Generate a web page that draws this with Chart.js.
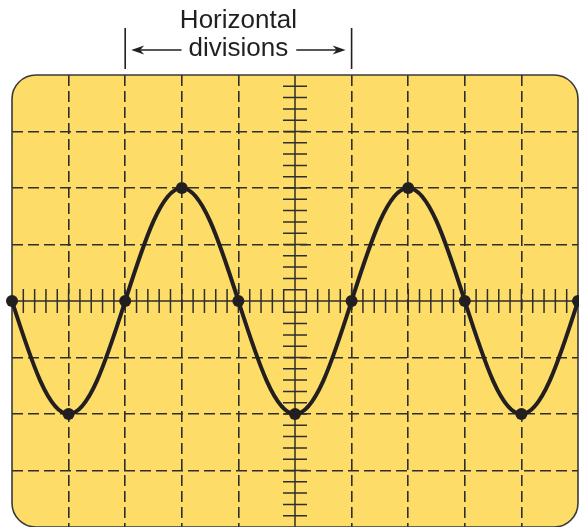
<!DOCTYPE html>
<html>
<head>
<meta charset="utf-8">
<script src="https://cdn.jsdelivr.net/npm/chart.js@4"></script>
<style>
  html, body { margin: 0; padding: 0; background: #fff; }
  #wrap { width: 579px; height: 527px; }
</style>
</head>
<body>
<div id="wrap"><canvas id="scope" width="579" height="527"></canvas></div>
<script>
// one sample per marker: zero crossings, peaks and troughs (in divisions)
const timeDivs = [0, 1, 2, 3, 4, 5, 6, 7, 8, 9, 10];
const voltDivs = [0, -2, 0, 2, 0, -2, 0, 2, 0, -2, 0];

const titleTop = 'Horizontal';
const titleBottom = 'divisions';
// the bracket spans these two grid lines
const spanFrom = 2;
const spanTo = 6;

const INK = '#231f20';
const GRID = '#2e2e2e';
const SCREEN = '#fedc68';

// bezier handle length in divisions: [along time, along volts at a crossing]
const HANDLE = [0.35, 1.1];

// screen background, centre graticule and labels
const scopePlugin = {
    id: 'scope',
    beforeDraw(chart) {
        const { ctx, chartArea: a } = chart;
        ctx.save();
        ctx.beginPath();
        ctx.roundRect(a.left, a.top, a.right - a.left, a.bottom - a.top, 24);
        ctx.fillStyle = SCREEN;
        ctx.fill();
        ctx.restore();
    },
    beforeDatasetsDraw(chart) {
        const { ctx, chartArea: a, scales: { x, y } } = chart;
        const cx = x.getPixelForValue(5);
        const cy = y.getPixelForValue(0);
        ctx.save();
        ctx.strokeStyle = GRID;
        ctx.lineWidth = 1.5;
        ctx.beginPath();
        ctx.moveTo(a.left, cy); ctx.lineTo(a.right, cy);
        ctx.moveTo(cx, a.top); ctx.lineTo(cx, a.bottom);
        for (let i = 1; i < 50; i++) {
            const px = x.getPixelForValue(i / 5);
            ctx.moveTo(px, cy - 12); ctx.lineTo(px, cy + 12);
        }
        for (let i = 1; i < 40; i++) {
            const py = y.getPixelForValue(-4 + i / 5);
            ctx.moveTo(cx - 12, py); ctx.lineTo(cx + 12, py);
        }
        ctx.rect(x.getPixelForValue(4.8), y.getPixelForValue(0.2),
            x.getPixelForValue(5.2) - x.getPixelForValue(4.8),
            y.getPixelForValue(-0.2) - y.getPixelForValue(0.2));
        ctx.stroke();

        // screen bezel
        ctx.beginPath();
        ctx.roundRect(a.left, a.top, a.right - a.left, a.bottom - a.top, 24);
        ctx.lineWidth = 1.6;
        ctx.strokeStyle = '#3a3a3a';
        ctx.stroke();

        // "Horizontal divisions" bracket
        const x0 = x.getPixelForValue(spanFrom);
        const x1 = x.getPixelForValue(spanTo);
        const mid = (x0 + x1) / 2;
        ctx.fillStyle = INK;
        ctx.font = '26px "Liberation Sans", Arial, sans-serif';
        ctx.textAlign = 'center';
        ctx.textBaseline = 'alphabetic';
        ctx.fillText(titleTop, mid, 28);
        ctx.fillText(titleBottom, mid, 56);
        const half = ctx.measureText(titleBottom).width / 2;

        ctx.strokeStyle = INK;
        ctx.lineWidth = 1.6;
        ctx.beginPath();
        ctx.moveTo(x0, 28); ctx.lineTo(x0, 69);
        ctx.moveTo(x1, 28); ctx.lineTo(x1, 69);
        ctx.moveTo(x0 + 14, 50); ctx.lineTo(mid - half - 7, 50);
        ctx.moveTo(mid + half + 8, 50); ctx.lineTo(x1 - 14, 50);
        ctx.stroke();
        ctx.beginPath();
        ctx.moveTo(x0 + 6, 50); ctx.lineTo(x0 + 19, 45.5); ctx.lineTo(x0 + 15, 50); ctx.lineTo(x0 + 19, 54.5);
        ctx.closePath();
        ctx.moveTo(x1 - 6, 50); ctx.lineTo(x1 - 19, 45.5); ctx.lineTo(x1 - 15, 50); ctx.lineTo(x1 - 19, 54.5);
        ctx.closePath();
        ctx.fill();
        ctx.restore();

        // reshape the spline handles so the trace looks like a sine wave
        const meta = chart.getDatasetMeta(0);
        meta.dataset.updateControlPoints(a, 'x');
        const hx = (x.getPixelForValue(1) - x.getPixelForValue(0)) * HANDLE[0];
        const hy = (y.getPixelForValue(0) - y.getPixelForValue(1)) * HANDLE[1];
        meta.data.forEach((p, i) => {
            const v = voltDivs[i];
            let dy = 0;
            if (v === 0) {
                const prev = i > 0 ? voltDivs[i - 1] : -voltDivs[i + 1];
                const next = i < voltDivs.length - 1 ? voltDivs[i + 1] : -voltDivs[i - 1];
                dy = next > prev ? -hy : hy;
            }
            p.cp1x = p.x - hx; p.cp1y = p.y - dy;
            p.cp2x = p.x + hx; p.cp2y = p.y + dy;
        });
    }
};

// hide the edge and centre lines, they are drawn by the plugin
const gridColor = (hidden) => (c) => hidden.includes(c.tick.value) ? 'rgba(0,0,0,0)' : GRID;

new Chart(document.getElementById('scope'), {
    type: 'line',
    data: {
        datasets: [{
            data: timeDivs.map((t, i) => ({ x: t, y: voltDivs[i] })),
            borderColor: INK,
            borderWidth: 4,
            tension: 0.5,
            pointRadius: 6,
            pointBackgroundColor: INK,
            pointBorderWidth: 0,
            clip: false
        }]
    },
    options: {
        responsive: false,
        animation: false,
        events: [],
        layout: { autoPadding: false, padding: { left: 12, top: 75, right: 1, bottom: 0 } },
        plugins: { legend: { display: false }, tooltip: { enabled: false } },
        scales: {
            x: {
                type: 'linear', min: 0, max: 10,
                ticks: { display: false, stepSize: 1, padding: 0 },
                grid: { color: gridColor([0, 5, 10]), lineWidth: 1.6, drawTicks: false },
                border: { display: false, dash: [11, 5] },
                afterFit: (s) => { s.height = 0; s.paddingLeft = 0; s.paddingRight = 0; }
            },
            y: {
                min: -4, max: 4,
                ticks: { display: false, stepSize: 1, padding: 0 },
                grid: { color: gridColor([-4, 0, 4]), lineWidth: 1.6, drawTicks: false },
                border: { display: false, dash: [11, 5] },
                afterFit: (s) => { s.width = 0; s.paddingTop = 0; s.paddingBottom = 0; }
            }
        }
    },
    plugins: [scopePlugin]
});
</script>
</body>
</html>
